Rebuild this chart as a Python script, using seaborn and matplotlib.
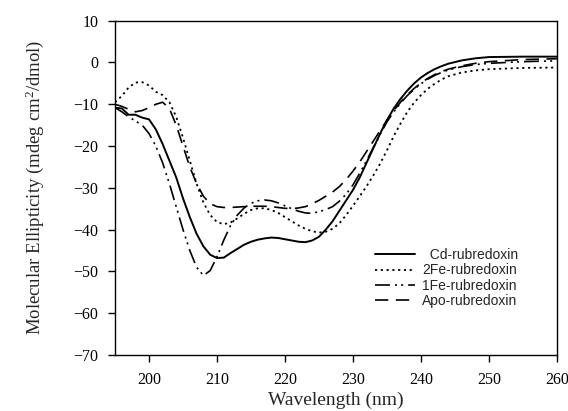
import matplotlib
matplotlib.use("Agg")
import matplotlib.pyplot as plt
import seaborn as sns
import pandas as pd

# ---------------- data ----------------
wl_cd = [195, 196, 197, 198, 199, 200, 201, 202, 203, 204, 205, 206, 207, 208, 209,
         210, 211, 212, 213, 214, 215, 216, 217, 218, 219, 220, 221, 222, 223, 224,
         225, 226, 227, 228, 229, 230, 231, 232, 233, 234, 235, 236, 237, 238, 239,
         240, 241, 242, 243, 244, 246, 248, 250, 255, 260]
cd = [-10.8, -11.0, -12.5, -12.5, -13.2, -13.6, -16.0, -19.5, -23.5, -27.5, -32.5, -37.0, -41.0, -44.0, -46.0,
      -46.8, -46.7, -45.6, -44.6, -43.6, -42.9, -42.4, -42.1, -41.9, -42.0, -42.3, -42.6, -42.9, -43.0, -42.6,
      -41.7, -40.0, -38.0, -35.5, -33.0, -30.5, -27.5, -24.0, -20.5, -17.0, -13.8, -11.0, -8.7, -6.7, -5.0,
      -3.6, -2.5, -1.6, -0.9, -0.3, 0.5, 1.0, 1.3, 1.4, 1.4]

wl_2fe = [195, 196, 197, 198, 199, 200, 201, 202, 203, 204, 205, 206, 207, 208, 209,
          210, 211, 212, 213, 214, 215, 216, 217, 218, 219, 220, 221, 222, 223, 224,
          225, 226, 227, 228, 229, 230, 231, 232, 233, 234, 235, 236, 237, 238, 239,
          240, 241, 242, 243, 244, 246, 248, 250, 255, 260]
fe2 = [-9.5, -8.0, -6.0, -4.8, -4.7, -5.5, -7.0, -7.8, -9.5, -13.0, -18.0, -23.5, -29.0, -33.5, -36.5,
       -38.2, -38.7, -38.3, -37.3, -36.2, -35.3, -34.9, -34.9, -35.3, -36.0, -37.0, -38.0, -39.0, -39.8, -40.4,
       -40.7, -40.5, -39.8, -38.5, -36.5, -34.3, -32.0, -29.6, -27.0, -24.2, -21.0, -17.6, -14.6, -11.8, -9.6,
       -7.8, -6.3, -5.1, -4.1, -3.3, -2.4, -1.9, -1.6, -1.3, -1.2]

wl_1fe = [195, 196, 197, 198, 199, 200, 201, 202, 203, 204, 205, 206, 207, 208, 209,
          210, 211, 212, 213, 214, 215, 216, 217, 218, 219, 220, 221, 222, 223, 224,
          225, 226, 227, 228, 229, 230, 231, 232, 233, 234, 235, 236, 237, 238, 239,
          240, 241, 242, 243, 244, 246, 248, 250, 255, 260]
fe1 = [-10.8, -11.8, -13.0, -14.0, -15.0, -17.0, -20.0, -24.0, -29.0, -34.5, -40.0, -45.0, -49.0, -51.0, -49.8,
       -46.5, -42.5, -39.0, -36.5, -34.8, -33.7, -33.1, -32.9, -33.1, -33.6, -34.3, -35.0, -35.6, -36.0, -36.1,
       -35.7, -35.2, -34.5, -33.2, -31.5, -29.3, -26.5, -23.5, -20.3, -17.2, -14.2, -11.8, -9.7, -7.9, -6.4,
       -5.1, -4.0, -3.1, -2.4, -1.8, -1.0, -0.5, -0.2, 0.2, 0.4]

wl_apo = [195, 196, 197, 198, 199, 200, 201, 202, 203, 204, 205, 206, 207, 208, 209,
          210, 211, 212, 213, 214, 215, 216, 217, 218, 219, 220, 221, 222, 223, 224,
          225, 226, 227, 228, 229, 230, 231, 232, 233, 234, 235, 236, 237, 238, 239,
          240, 241, 242, 243, 244, 246, 248, 250, 255, 260]
apo = [-10.0, -10.5, -11.2, -11.8, -11.5, -10.8, -10.0, -9.5, -11.0, -15.0, -20.0, -25.0, -29.0, -32.0, -33.8,
       -34.5, -34.7, -34.7, -34.6, -34.5, -34.4, -34.4, -34.4, -34.5, -34.7, -34.9, -35.0, -34.8, -34.5, -33.8,
       -33.0, -32.0, -31.0, -29.7, -28.0, -26.0, -23.8, -21.3, -18.8, -16.3, -13.8, -11.5, -9.5, -7.7, -6.2,
       -4.9, -3.8, -2.9, -2.2, -1.6, -0.8, -0.2, 0.2, 0.7, 0.9]

labels = ["  Cd-rubredoxin", "2Fe-rubredoxin", "1Fe-rubredoxin", "Apo-rubredoxin"]
x_ticks = [200, 210, 220, 230, 240, 250, 260]
y_ticks = [-70, -60, -50, -40, -30, -20, -10, 0, 10]

# ---------------- styling ----------------
sns.set_style("white")
plt.rcParams["font.family"] = ["Liberation Serif", "DejaVu Serif"]
plt.rcParams["mathtext.fontset"] = "custom"
plt.rcParams["mathtext.rm"] = "Liberation Serif"
plt.rcParams["mathtext.it"] = "Liberation Serif:italic"

fig = plt.figure(figsize=(5.68, 4.11), dpi=100)
ax = fig.add_axes([0.2025, 0.1363, 0.778, 0.8133])

series = [
    (wl_cd, cd, labels[0], "-", 1.4),
    (wl_2fe, fe2, labels[1], (0, (1.2, 2.0)), 1.3),
    (wl_1fe, fe1, labels[2], (0, (9, 3, 1.2, 2.5, 1.2, 3)), 1.2),
    (wl_apo, apo, labels[3], (0, (8, 4.5)), 1.2),
]
for xs, ys, lab, ls, lw in series:
    df = pd.DataFrame({"wl": xs, "v": ys})
    sns.lineplot(data=df, x="wl", y="v", ax=ax, color="black", linestyle=ls,
                 linewidth=lw, label=lab, sort=False, estimator=None)

ax.set_xlim(195, 260)
ax.set_ylim(-70, 10)
ax.set_xticks(x_ticks)
ax.set_yticks(y_ticks)
ax.set_yticklabels([str(t).replace("-", "\u2212") for t in y_ticks])
ax.tick_params(axis="both", which="both", direction="out", length=5, width=1,
               labelsize=11.5, colors="black", pad=7)
ax.tick_params(top=False, right=False, bottom=True, left=True)
for s in ax.spines.values():
    s.set_color("black")
    s.set_linewidth(1.0)

ax.set_xlabel("Wavelength (nm)", fontsize=14, labelpad=3)
ax.set_ylabel("Molecular Ellipticity (mdeg cm$^2$/dmol)", fontsize=13.5, labelpad=20)

leg = ax.legend(loc="upper right", bbox_to_anchor=(0.912, 0.32), frameon=False,
                borderaxespad=0, borderpad=0, handlelength=2.9, handletextpad=0.5,
                labelspacing=0.1, prop={"family": "Liberation Sans", "size": 10})

fig.savefig("out.png", dpi=100)
